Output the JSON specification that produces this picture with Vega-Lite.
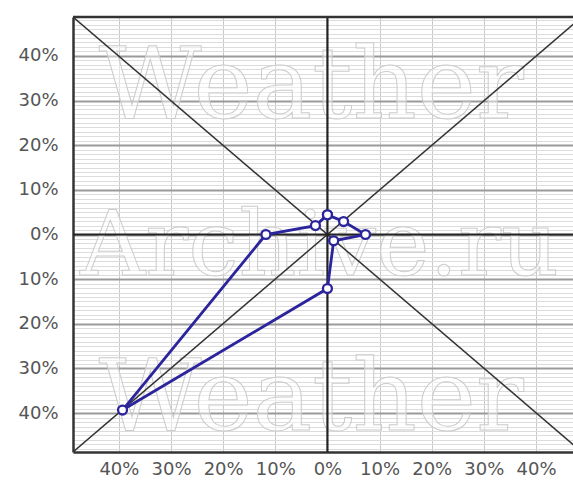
{
  "$schema": "https://vega.github.io/schema/vega-lite/v6.json",
  "width": 500,
  "height": 435,
  "autosize": "none",
  "padding": {"left": 73, "top": 17, "right": 0, "bottom": 30},
  "background": "#ffffff",
  "config": {"view": {"stroke": null}},
  "datasets": {
    "rose": [
      {"i": 1, "dir": "N", "x": 0, "y": 4.4},
      {"i": 2, "dir": "NE", "x": 3.1, "y": 2.9},
      {"i": 3, "dir": "E", "x": 7.3, "y": 0},
      {"i": 4, "dir": "SE", "x": 1.2, "y": -1.4},
      {"i": 5, "dir": "S", "x": 0, "y": -12.1},
      {"i": 6, "dir": "SW", "x": -39.3, "y": -39.3},
      {"i": 7, "dir": "W", "x": -11.8, "y": 0},
      {"i": 8, "dir": "NW", "x": -2.3, "y": 2.0},
      {"i": 9, "dir": "N", "x": 0, "y": 4.4}
    ],
    "watermark": [
      {"text": "Weather", "x": -3.1, "y": 26, "s": 100},
      {"text": "Archive.ru", "x": -1.5, "y": -9.1, "s": 90},
      {"text": "Weather", "x": -3.1, "y": -43.8, "s": 100}
    ],
    "centre": [
      {"x": 0, "y": 48.7, "x2": 0, "y2": -48.7},
      {"x": -48.8, "y": 0, "x2": 47.1, "y2": 0}
    ],
    "diagonals": [
      {"x": -48.8, "y": 48.7, "x2": 48.8, "y2": -48.7},
      {"x": -48.8, "y": -48.7, "x2": 48.8, "y2": 48.7}
    ],
    "topborder": [
      {"x": -48.8, "y": 48.7, "x2": 47.1, "y2": 48.7}
    ]
  },
  "encoding": {
    "x": {
      "field": "x",
      "type": "quantitative",
      "title": null,
      "scale": {"domain": [-48.8, 47.1], "nice": false, "zero": false},
      "axis": {
        "values": [-40, -30, -20, -10, 0, 10, 20, 30, 40],
        "labelExpr": "abs(datum.value) + '%'",
        "labelFont": "DejaVu Sans",
        "labelFontSize": 18,
        "labelColor": "#555555",
        "labelPadding": 8,
        "ticks": false,
        "domain": true,
        "domainColor": "#333333",
        "domainWidth": 2.5,
        "grid": true,
        "gridColor": "#c8c8c8",
        "gridWidth": 1,
        "labelOverlap": false,
        "labelFlush": false
      }
    },
    "y": {
      "field": "y",
      "type": "quantitative",
      "title": null,
      "scale": {"domain": [-48.7, 48.7], "nice": false, "zero": false},
      "axis": {
        "values": [-48, -47, -46, -45, -44, -43, -42, -41, -40, -39, -38, -37, -36, -35, -34, -33, -32, -31, -30, -29, -28, -27, -26, -25, -24, -23, -22, -21, -20, -19, -18, -17, -16, -15, -14, -13, -12, -11, -10, -9, -8, -7, -6, -5, -4, -3, -2, -1, 0, 1, 2, 3, 4, 5, 6, 7, 8, 9, 10, 11, 12, 13, 14, 15, 16, 17, 18, 19, 20, 21, 22, 23, 24, 25, 26, 27, 28, 29, 30, 31, 32, 33, 34, 35, 36, 37, 38, 39, 40, 41, 42, 43, 44, 45, 46, 47, 48],
        "labelExpr": "datum.value % 10 === 0 ? abs(datum.value) + '%' : ''",
        "labelFont": "DejaVu Sans",
        "labelFontSize": 18,
        "labelColor": "#555555",
        "labelPadding": 15,
        "labelOverlap": false,
        "labelFlush": false,
        "ticks": false,
        "domain": true,
        "domainColor": "#333333",
        "domainWidth": 2.5,
        "grid": true,
        "gridColor": {"condition": {"test": "datum.value % 10 === 0", "value": "#9a9a9a"}, "value": "#dcdcdc"},
        "gridWidth": {"condition": {"test": "datum.value % 10 === 0", "value": 1.8}, "value": 1}
      }
    }
  },
  "layer": [
    {
      "data": {"name": "watermark"},
      "mark": {
        "type": "text",
        "font": "DejaVu Serif",
        "align": "center",
        "baseline": "alphabetic",
        "fill": "#ffffff",
        "fillOpacity": 0.45,
        "stroke": "#cccccc",
        "strokeWidth": 1
      },
      "encoding": {
        "text": {"field": "text"},
        "size": {"field": "s", "type": "quantitative", "scale": null, "legend": null}
      }
    },
    {
      "data": {"name": "diagonals"},
      "mark": {"type": "rule", "color": "#333333", "strokeWidth": 1.5, "clip": true},
      "encoding": {"x2": {"field": "x2"}, "y2": {"field": "y2"}}
    },
    {
      "data": {"name": "centre"},
      "mark": {"type": "rule", "color": "#222222", "strokeWidth": 2.2},
      "encoding": {"x2": {"field": "x2"}, "y2": {"field": "y2"}}
    },
    {
      "data": {"name": "topborder"},
      "mark": {"type": "rule", "color": "#333333", "strokeWidth": 2.5},
      "encoding": {"x2": {"field": "x2"}, "y2": {"field": "y2"}}
    },
    {
      "data": {"name": "rose"},
      "mark": {"type": "line", "color": "#2b249c", "strokeWidth": 2.8},
      "encoding": {"order": {"field": "i", "type": "quantitative"}}
    },
    {
      "data": {"name": "rose"},
      "mark": {"type": "point", "filled": true, "fill": "#ffffff", "stroke": "#2b249c", "strokeWidth": 2.3, "size": 80, "opacity": 1},
      "encoding": {}
    }
  ]
}
